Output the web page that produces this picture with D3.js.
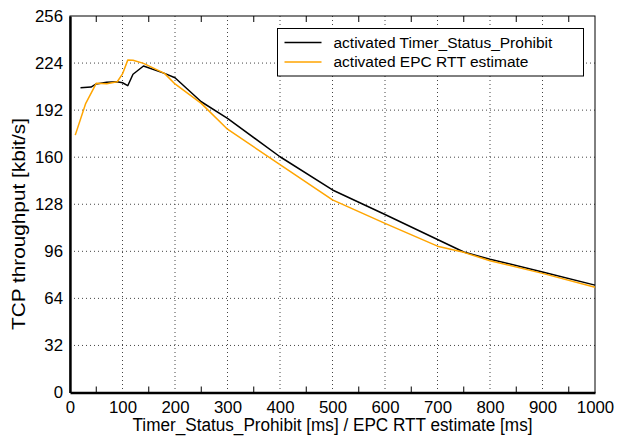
<!DOCTYPE html>
<html>
<head>
<meta charset="utf-8">
<script src="https://cdn.jsdelivr.net/npm/d3@7"></script>
<style>
  body { margin: 0; background: #fff; }
  svg { display: block; font-family: "Liberation Sans", Arial, sans-serif; }
</style>
</head>
<body>
<svg id="chart" width="627" height="436"></svg>
<script>
(function() {
  'use strict';

  // values
  var timerMs = [20, 40, 50, 70, 90, 100, 110, 120, 140, 180, 200, 250, 300, 400, 500, 600, 700, 750, 800, 900, 1000];
  var timerKbit = [207.2, 207.7, 209.8, 211, 211.3, 210.6, 208.6, 216.4, 222, 217, 214, 197.7, 186.4, 160.3, 137.7, 121, 104, 95.5, 90.6, 82, 73];

  var rttMs = [10, 30, 50, 70, 90, 100, 110, 120, 140, 180, 200, 250, 300, 400, 500, 600, 700, 750, 800, 900, 1000];
  var rttKbit = [175, 196.6, 210.2, 210, 211.3, 216.6, 226, 225.9, 223.8, 217, 209.8, 196.6, 179, 155, 131, 115, 99.5, 95.3, 89.6, 81, 71.5];

  var seriesNames = ['activated Timer_Status_Prohibit', 'activated EPC RTT estimate'];
  var seriesColors = ['#000000', '#ffa500'];
  var xTicks = [0, 100, 200, 300, 400, 500, 600, 700, 800, 900, 1000];
  var yTicks = [0, 32, 64, 96, 128, 160, 192, 224, 256];

  var margin = {left: 70, top: 16, right: 32, bottom: 43.5};
  var width = 627 - margin.left - margin.right;
  var height = 436 - margin.top - margin.bottom;

  var svg = d3.select('#chart');
  var g = svg.append('g')
    .attr('transform', 'translate(' + margin.left + ',' + margin.top + ')');

  var x = d3.scaleLinear().domain([0, 1000]).range([0, width]);
  var y = d3.scaleLinear().domain([0, 256]).range([height, 0]);

  // dotted grid
  g.append('g').selectAll('line')
    .data(xTicks.slice(1, -1))
    .enter().append('line')
    .attr('x1', function(d) { return x(d); })
    .attr('x2', function(d) { return x(d); })
    .attr('y1', 0).attr('y2', height)
    .attr('stroke', '#444').attr('stroke-width', 1)
    .attr('stroke-dasharray', '1,3');

  g.append('g').selectAll('line')
    .data(yTicks.slice(1, -1))
    .enter().append('line')
    .attr('y1', function(d) { return y(d); })
    .attr('y2', function(d) { return y(d); })
    .attr('x1', 0).attr('x2', width)
    .attr('stroke', '#444').attr('stroke-width', 1)
    .attr('stroke-dasharray', '1,3');

  // minor ticks every 50 ms, pointing inwards, top and bottom
  var minor = d3.range(50, 1000, 100);
  g.append('g').selectAll('line')
    .data(minor)
    .enter().append('line')
    .attr('x1', function(d) { return x(d); })
    .attr('x2', function(d) { return x(d); })
    .attr('y1', height).attr('y2', height - 6)
    .attr('stroke', '#000');
  g.append('g').selectAll('line')
    .data(minor)
    .enter().append('line')
    .attr('x1', function(d) { return x(d); })
    .attr('x2', function(d) { return x(d); })
    .attr('y1', 0).attr('y2', 6)
    .attr('stroke', '#000');

  // frame
  g.append('rect')
    .attr('x', 0).attr('y', 0)
    .attr('width', width).attr('height', height)
    .attr('fill', 'none').attr('stroke', '#000').attr('stroke-width', 1);

  var xAxis = g.append('g')
    .attr('transform', 'translate(0,' + height + ')')
    .call(d3.axisBottom(x).tickValues(xTicks).tickFormat(d3.format('d')).tickSize(0).tickPadding(8.5));
  xAxis.select('.domain').attr('stroke-width', 2.4);
  xAxis.selectAll('text').attr('font-size', 16.8).attr('fill', '#000')
    .attr('font-family', '"Liberation Sans", Arial, sans-serif');

  var yAxis = g.append('g')
    .call(d3.axisLeft(y).tickValues(yTicks).tickSize(0).tickPadding(7));
  yAxis.select('.domain').attr('stroke-width', 2.4);
  yAxis.selectAll('text').attr('font-size', 16.8).attr('fill', '#000')
    .attr('font-family', '"Liberation Sans", Arial, sans-serif');

  // axis titles
  svg.append('text')
    .attr('x', margin.left + width / 2)
    .attr('y', 431)
    .attr('text-anchor', 'middle')
    .attr('font-size', 18)
    .attr('textLength', 400)
    .attr('lengthAdjust', 'spacingAndGlyphs')
    .text('Timer_Status_Prohibit [ms] / EPC RTT estimate [ms]');

  svg.append('text')
    .attr('transform', 'translate(25,224) rotate(-90)')
    .attr('text-anchor', 'middle')
    .attr('font-size', 18)
    .attr('textLength', 212)
    .attr('lengthAdjust', 'spacingAndGlyphs')
    .text('TCP throughput [kbit/s]');

  // curves
  var line = d3.line()
    .x(function(d) { return x(d[0]); })
    .y(function(d) { return y(d[1]); });

  var series = [
    d3.zip(timerMs, timerKbit),
    d3.zip(rttMs, rttKbit)
  ];

  g.selectAll('path.curve')
    .data(series)
    .enter().append('path')
    .attr('class', 'curve')
    .attr('d', line)
    .attr('fill', 'none')
    .attr('stroke', function(d, i) { return seriesColors[i]; })
    .attr('stroke-width', 1.5)
    .attr('stroke-linejoin', 'round');

  // legend
  var legend = svg.append('g').attr('transform', 'translate(277.5,28.5)');
  legend.append('rect')
    .attr('width', 306).attr('height', 47.5)
    .attr('fill', '#fff').attr('stroke', '#000').attr('stroke-width', 1);

  var items = legend.selectAll('g.item')
    .data(seriesNames)
    .enter().append('g')
    .attr('class', 'item')
    .attr('transform', function(d, i) { return 'translate(0,' + (14 + i * 19.5) + ')'; });

  items.append('line')
    .attr('x1', 7).attr('x2', 44)
    .attr('stroke', function(d, i) { return seriesColors[i]; })
    .attr('stroke-width', 1.5);

  items.append('text')
    .attr('x', 56)
    .attr('dy', '0.35em')
    .attr('font-size', 15.5)
    .text(function(d) { return d; });
}).call(this);
</script>
</body>
</html>
